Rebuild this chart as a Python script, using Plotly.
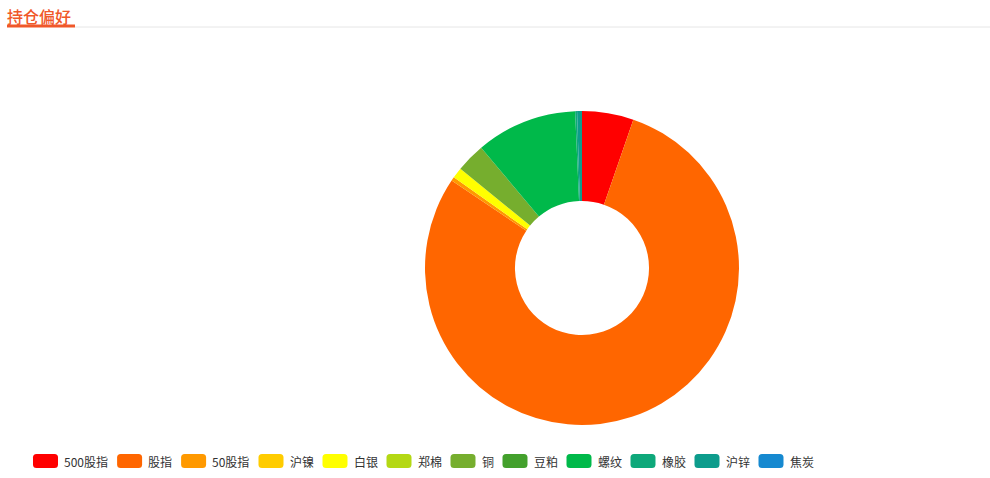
import plotly.graph_objects as go

W, H = 990, 478

categories = ["500股指", "股指", "50股指", "沪镍", "白银", "郑棉", "铜", "豆粕", "螺纹", "橡胶", "沪锌", "焦炭"]
values = [5.3, 79.1, 0.4, 0, 1.1, 0, 3.0, 0, 10.4, 0.2, 0.5, 0]
colors = ["#ff0000", "#ff6600", "#ff9900", "#ffcc00", "#ffff00", "#b4d814",
          "#76ae2e", "#43a02c", "#00b94a", "#0ea87a", "#0d9c8c", "#1689d0"]
title_text = "持仓偏好"

FONT = "Microsoft YaHei, Noto Sans CJK SC, sans-serif"

def px(x):
    return x / W

def py(y):
    return 1 - y / H

cx, cy, r = 582, 268, 157

fig = go.Figure()
fig.add_trace(go.Pie(
    labels=categories,
    values=values,
    marker=dict(colors=colors, line=dict(width=0)),
    hole=0.427,
    sort=False,
    direction="clockwise",
    rotation=0,
    textinfo="none",
    hoverinfo="label+value+percent",
    showlegend=False,
    domain=dict(x=[px(cx - r), px(cx + r)], y=[py(cy + r), py(cy - r)]),
))

shapes = []
annotations = []

# title + underline
annotations.append(dict(
    text=title_text, x=px(6), y=py(16.5), xref="paper", yref="paper",
    xanchor="left", yanchor="middle", showarrow=False, borderpad=0,
    font=dict(family=FONT, size=16, color="#f0582a", weight=500),
))
shapes.append(dict(type="line", xref="paper", yref="paper",
                   x0=px(75), x1=1, y0=py(27), y1=py(27),
                   line=dict(color="#e6e6e6", width=1)))
shapes.append(dict(type="rect", xref="paper", yref="paper",
                   x0=px(7), x1=px(75), y0=py(27.5), y1=py(24.5),
                   fillcolor="#f0582a", line=dict(width=0)))

# legend (echarts-style rounded swatches)
def text_width(s):
    return sum(12 if ord(c) > 255 else 6.7 for c in s)

def rounded_rect(x0, y0, x1, y1, rad):
    X = lambda v: f"{px(v):.6f}"
    Y = lambda v: f"{py(v):.6f}"
    return (f"M {X(x0 + rad)},{Y(y0)} L {X(x1 - rad)},{Y(y0)} "
            f"Q {X(x1)},{Y(y0)} {X(x1)},{Y(y0 + rad)} L {X(x1)},{Y(y1 - rad)} "
            f"Q {X(x1)},{Y(y1)} {X(x1 - rad)},{Y(y1)} L {X(x0 + rad)},{Y(y1)} "
            f"Q {X(x0)},{Y(y1)} {X(x0)},{Y(y1 - rad)} L {X(x0)},{Y(y0 + rad)} "
            f"Q {X(x0)},{Y(y0)} {X(x0 + rad)},{Y(y0)} Z")

lx = 33
ly = 461
for name, col in zip(categories, colors):
    shapes.append(dict(type="path", xref="paper", yref="paper",
                       path=rounded_rect(lx, ly - 7, lx + 25, ly + 7, 3.5),
                       fillcolor=col, line=dict(width=0)))
    annotations.append(dict(
        text=name, x=px(lx + 29), y=py(ly), xref="paper", yref="paper",
        xanchor="left", yanchor="middle", showarrow=False,
        font=dict(family=FONT, size=12, color="#333333"),
    ))
    lx += 25 + 5 + text_width(name) + 10

fig.update_layout(
    width=W, height=H,
    margin=dict(l=0, r=0, t=0, b=0),
    paper_bgcolor="white", plot_bgcolor="white",
    shapes=shapes, annotations=annotations,
    showlegend=False,
)

fig.write_html(
    "out.html",
    config={"displayModeBar": False},
    post_script="document.body.style.margin='0';document.body.style.overflow='hidden';",
)
